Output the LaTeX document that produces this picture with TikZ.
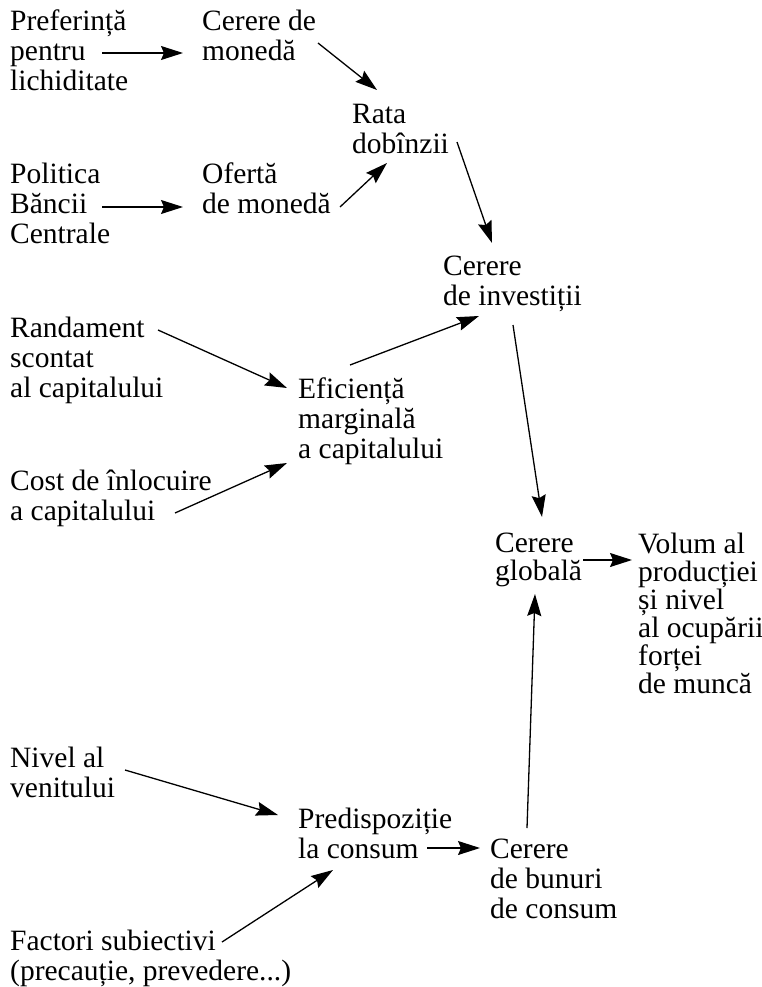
\documentclass[tikz,border=0pt]{standalone}
\usepackage{fontspec}
\setmainfont{Liberation Serif}
\usetikzlibrary{arrows.meta}
\newcommand\mystrut{\rule{0pt}{26pt}}
\newcommand\fsza{\fontsize{29.5}{30}\selectfont}
\newcommand\fszb{\fontsize{29.5}{28}\selectfont}
\begin{document}
\begin{tikzpicture}[x=1pt,y=-1pt,
  txt/.style={anchor=north west, inner sep=0pt, align=left, font=\fsza},
  txtb/.style={txt, font=\fszb},
  arr/.style={-{Stealth[length=22pt,width=14pt,inset=3pt]}, line width=1.3pt}]
\useasboundingbox (0,0) rectangle (762,987);
% nodes
\node[txt] (pref) at (10,4) {\mystrut Preferință\\pentru\\lichiditate};
\node[txt] (cmon) at (202,4) {\mystrut Cerere de\\monedă};
\node[txt] (rata) at (352,97) {\mystrut Rata\\dobînzii};
\node[txt] (pol) at (10,157) {\mystrut Politica\\Băncii\\Centrale};
\node[txt] (ofm) at (202,157) {\mystrut Ofertă\\de monedă};
\node[txt] (cinv) at (443,249) {\mystrut Cerere\\de investiții};
\node[txt] (rand) at (10,311) {\mystrut Randament\\scontat\\al capitalului};
\node[txt] (efic) at (298,372) {\mystrut Eficiență\\marginală\\a capitalului};
\node[txt] (cost) at (10,464) {\mystrut Cost de înlocuire\\a capitalului};
\node[txtb] (cglob) at (495,526) {\mystrut Cerere\\globală};
\node[txtb] (vol) at (638,527) {\mystrut Volum al\\producției\\și nivel\\al ocupării\\forței\\de muncă};
\node[txt] (niv) at (10,741) {\mystrut Nivel al\\venitului};
\node[txt] (pred) at (298,802) {\mystrut Predispoziție\\la consum};
\node[txt] (cbun) at (490,832) {\mystrut Cerere\\de bunuri\\de consum};
\node[txt] (fact) at (10,924) {\mystrut Factori subiectivi\\(precauție, prevedere...)};
% connectors
\draw[arr] ([shift={(92,49)}]pref.north west) -- ([shift={(-19,49)}]cmon.north west);
\draw[arr] ([shift={(116,39)}]cmon.north west) -- ([shift={(25,-7)}]rata.north west);
\draw[arr] ([shift={(92,50)}]pol.north west) -- ([shift={(-19,50)}]ofm.north west);
\draw[arr] ([shift={(138,50)}]ofm.north west) -- ([shift={(35,66)}]rata.north west);
\draw[arr] ([shift={(105,45)}]rata.north west) -- ([shift={(49,-6)}]cinv.north west);
\draw[arr] ([shift={(148,19)}]rand.north west) -- ([shift={(-11,16)}]efic.north west);
\draw[arr] ([shift={(165,49)}]cost.north west) -- ([shift={(-11,91)}]efic.north west);
\draw[arr] ([shift={(52,-7)}]efic.north west) -- ([shift={(36,67)}]cinv.north west);
\draw[arr] ([shift={(70,76)}]cinv.north west) -- ([shift={(47,-9)}]cglob.north west);
\draw[arr] ([shift={(88,34)}]cglob.north west) -- ([shift={(-6,33)}]vol.north west);
\draw[arr] ([shift={(37,-4)}]cbun.north west) -- ([shift={(40,68)}]cglob.north west);
\draw[arr] ([shift={(115,29)}]niv.north west) -- ([shift={(-20,13)}]pred.north west);
\draw[arr] ([shift={(212,18)}]fact.north west) -- ([shift={(35,68)}]pred.north west);
\draw[arr] ([shift={(129,46)}]pred.north west) -- ([shift={(-10,16)}]cbun.north west);
\end{tikzpicture}
\end{document}
